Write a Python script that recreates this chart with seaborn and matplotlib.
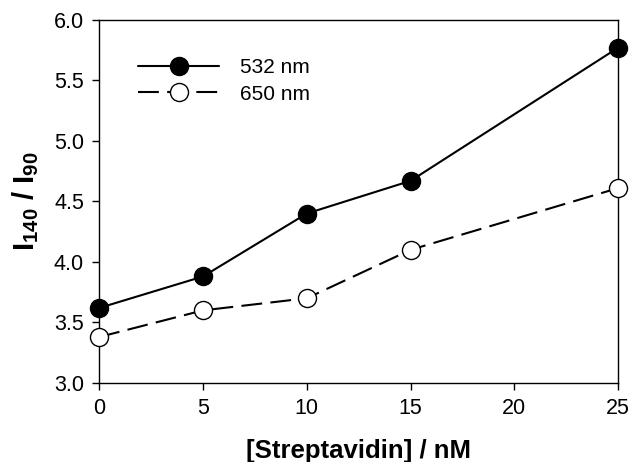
import matplotlib
matplotlib.use("Agg")
import matplotlib.pyplot as plt
import seaborn as sns
import pandas as pd

conc = [0, 5, 10, 15, 25]
ratio_532 = [3.62, 3.88, 4.40, 4.67, 5.77]
ratio_650 = [3.38, 3.60, 3.70, 4.10, 4.61]
xticks = [0, 5, 10, 15, 20, 25]
yticks = [3.0, 3.5, 4.0, 4.5, 5.0, 5.5, 6.0]

sns.set_style("ticks")
plt.rcParams['font.family'] = ['Liberation Sans', 'DejaVu Sans']
plt.rcParams['mathtext.fontset'] = 'custom'
plt.rcParams['mathtext.rm'] = 'Liberation Sans'
plt.rcParams['mathtext.bf'] = 'Liberation Sans:bold'
plt.rcParams['text.color'] = 'black'
plt.rcParams['axes.labelcolor'] = 'black'
plt.rcParams['xtick.color'] = 'black'
plt.rcParams['ytick.color'] = 'black'

fig = plt.figure(figsize=(6.32, 4.62), dpi=100)
ax = fig.add_axes([0.157, 0.171, 0.821, 0.786])

d1 = pd.DataFrame({"x": conc, "y": ratio_532})
d2 = pd.DataFrame({"x": conc, "y": ratio_650})
sns.lineplot(data=d1, x="x", y="y", ax=ax, color="black", lw=1.5,
             marker="o", markersize=13, markerfacecolor="black",
             markeredgecolor="black", markeredgewidth=1.0, label="532 nm")
sns.lineplot(data=d2, x="x", y="y", ax=ax, color="black", lw=1.5,
             marker="o", markersize=13, markerfacecolor="white",
             markeredgecolor="black", markeredgewidth=1.0, label="650 nm",
             dashes=False)
ax.lines[1].set_dashes([10, 4])
for ln in ax.lines:
    ln.set_clip_on(False)
    ln.set_zorder(5)

ax.set_xlim(0, 25)
ax.set_ylim(3.0, 6.0)
ax.set_xticks(xticks)
ax.set_yticks(yticks)
ax.set_yticklabels([f"{v:.1f}" for v in yticks])
ax.tick_params(direction="out", length=5, width=1, labelsize=15.5, pad=6,
               colors="black")
for s in ax.spines.values():
    s.set_linewidth(1.0)
    s.set_color("black")

ax.set_xlabel("[Streptavidin] / nM", fontsize=18.5, fontweight="bold", labelpad=14)
ax.set_ylabel(r"$\mathbf{I_{140}}$ / $\mathbf{I_{90}}$", fontsize=21, fontweight="bold", labelpad=9)

leg = ax.legend(loc="upper left", bbox_to_anchor=(0.075, 0.894), frameon=False,
                borderaxespad=0, borderpad=0,
                fontsize=15, handlelength=3.9, handletextpad=1.0, labelspacing=0.35)
for ln in leg.get_lines():
    ln.set_linewidth(1.5)
leg.get_lines()[1].set_dashes([10, 4])

fig.savefig("out.png", dpi=100)
